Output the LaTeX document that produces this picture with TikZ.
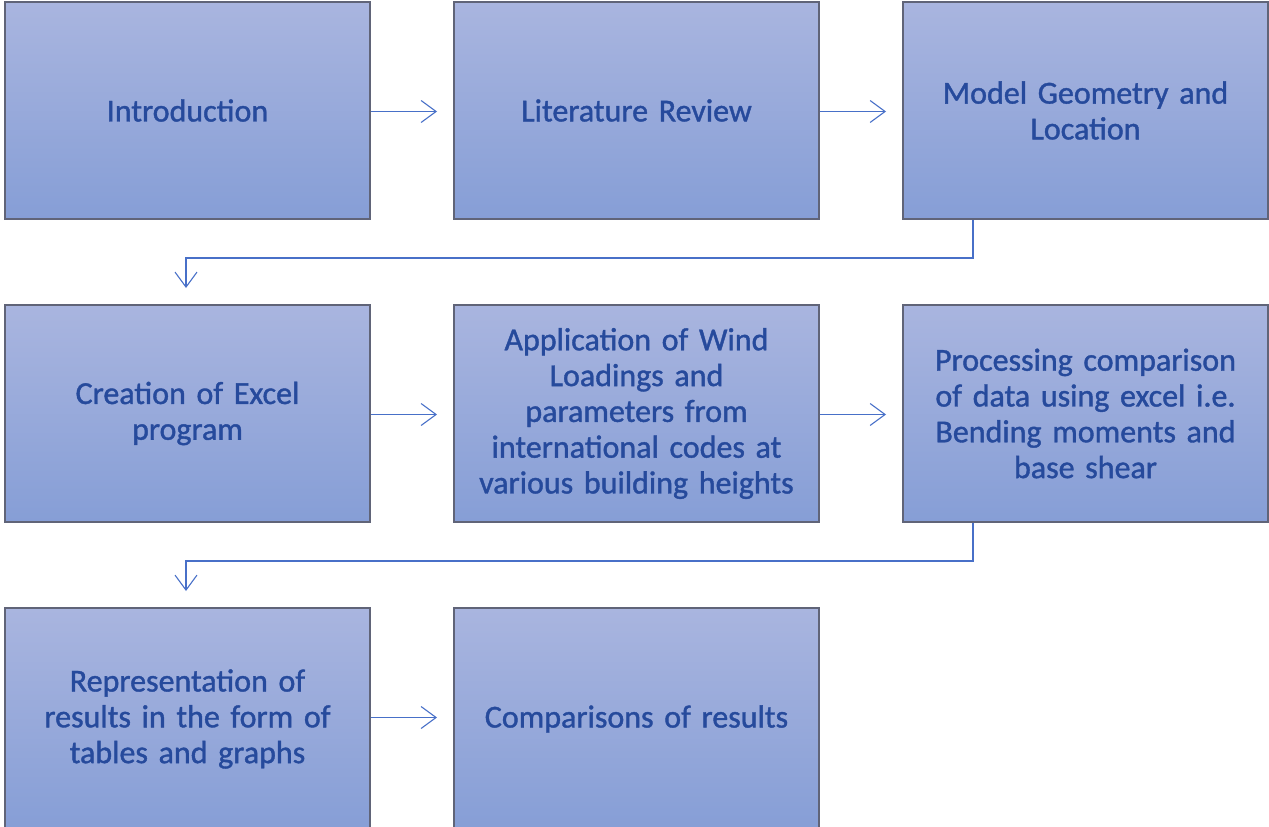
\documentclass[tikz,border=0pt]{standalone}
\usepackage{fontspec}
\setmainfont{Carlito}
\newfontfamily\boxfont{Carlito}[FakeBold=1.2]
\usetikzlibrary{arrows.meta}
\definecolor{boxtop}{RGB}{169,181,223}
\definecolor{boxbot}{RGB}{134,158,214}
\definecolor{boxedge}{RGB}{96,100,120}
\definecolor{txt}{RGB}{38,74,156}
\definecolor{conn}{RGB}{72,112,200}
\begin{document}
\begin{tikzpicture}[x=1pt,y=-1pt,
  stepbox/.style={draw=boxedge,line width=1.4pt,top color=boxtop,bottom color=boxbot,
    minimum width=365pt,minimum height=217pt,inner sep=0pt,
    text width=350pt,align=center,text=txt,
    font=\boxfont\fontsize{32pt}{35.8pt}\selectfont},
  conline/.style={draw=conn,line width=1.1pt,
    -{Straight Barb[length=15pt,width=22pt,line width=1.1pt]}}]
\useasboundingbox (0,0) rectangle (1269,827);
\node[stepbox] (b1) at (187.5,110.5) {Introduction};
\node[stepbox] (b2) at (636.5,110.5) {Literature Review};
\node[stepbox] (b3) at (1085.5,110.5) {Model Geometry and\\Location};
\node[stepbox] (b4) at (187.5,413.5) {Creation of Excel\\program};
\node[stepbox] (b5) at (636.5,413.5) {Application of Wind\\Loadings and\\parameters from\\international codes at\\various building heights};
\node[stepbox] (b6) at (1085.5,413.5) {Processing comparison\\of data using excel i.e.\\Bending moments and\\base shear};
\node[stepbox,minimum height=222pt] (b7) at (187.5,719) {Representation of\\results in the form of\\tables and graphs};
\node[stepbox,minimum height=222pt] (b8) at (636.5,719) {Comparisons of results};
% horizontal arrows
\coordinate (t12) at (437,111.5);
\coordinate (t23) at (886,111.5);
\coordinate (t45) at (437,414.5);
\coordinate (t56) at (886,414.5);
\coordinate (t78) at (437,717.5);
\draw[conline] (b1.east |- t12) -- (t12);
\draw[conline] (b2.east |- t23) -- (t23);
\draw[conline] (b4.east |- t45) -- (t45);
\draw[conline] (b5.east |- t56) -- (t56);
\draw[conline] (b7.east |- t78) -- (t78);
% elbow connectors
\coordinate (s34) at (973,220);
\coordinate (e34) at (186,288);
\coordinate (s67) at (973,523);
\coordinate (e67) at (186,591);
\draw[conline] (s34) -- (973,258) -- (186,258) -- (e34);
\draw[conline] (s67) -- (973,561) -- (186,561) -- (e67);
\end{tikzpicture}
\end{document}
